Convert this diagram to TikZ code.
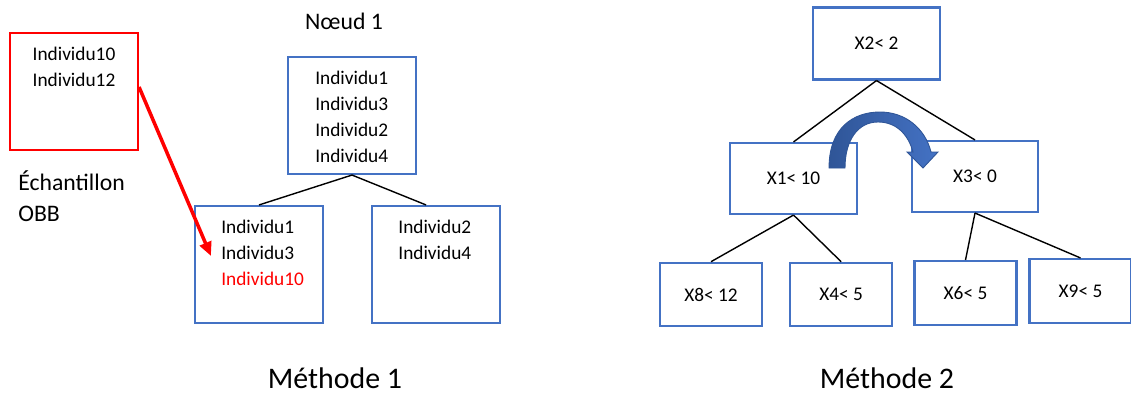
\documentclass[tikz,border=0pt]{standalone}
\usepackage{fontspec}
\setmainfont{Carlito}
\usepackage{xcolor}
\usepackage{tikz}
\usetikzlibrary{arrows.meta,positioning}
\definecolor{bleu}{RGB}{68,114,196}
\definecolor{bleufonce}{RGB}{47,85,151}
\definecolor{rouge}{RGB}{255,0,0}
\tikzstyle{boite}=[
draw=bleu,
line width=1.2pt,
minimum width=2.56cm,
minimum height=2.34cm,
inner sep=0pt
]
\tikzstyle{boiterouge}=[
boite,
draw=rouge
]
\tikzstyle{liste}=[
align=left,
inner sep=0pt,
anchor=north west,
font=\fontsize{11}{14.8}\selectfont
]
\tikzstyle{critere}=[
draw=bleu,
line width=1.2pt,
minimum width=2.54cm,
minimum height=1.44cm,
inner sep=0pt,
font=\fontsize{11}{13}\selectfont
]
\tikzstyle{feuille}=[
critere,
minimum width=2.04cm,
minimum height=1.27cm
]
\tikzstyle{titre}=[
inner sep=0pt,
font=\fontsize{17}{20}\selectfont
]
\tikzstyle{lien}=[
line width=0.8pt
]
\tikzstyle{fleche}=[
rouge,
line width=2pt,
-{Triangle[length=0.28cm,width=0.24cm]}
]

\begin{document}
\begin{tikzpicture}[x=0.02cm,y=-0.02cm]
\useasboundingbox (0,0) rectangle (1131,396);

% Methode 1
\node (obb) [boiterouge] at (74,91.5) {};
\node (obbliste) [liste, anchor=north] at ([yshift=-0.3cm]obb.north) {Individu10\\Individu12};
\node (echantillon) [anchor=west, align=left, inner sep=0pt, font=\fontsize{13.5}{17.6}\selectfont] at (18,196) {Échantillon\\OBB};

\node (titrenoeud) [font=\fontsize{13.5}{16}\selectfont] at (344,21) {Nœud 1};
\node (noeud) [boite] at (352,115.5) {};
\node (noeudliste) [liste] at ([xshift=0.56cm,yshift=-0.3cm]noeud.north west) {Individu1\\Individu3\\Individu2\\Individu4};

\node (gauche) [boite] at (259,264.5) {};
\node (gaucheliste) [liste] at ([xshift=0.54cm,yshift=-0.3cm]gauche.north west) {Individu1\\Individu3\\\textcolor{rouge}{Individu10}};
\node (droite) [boite, right=0.94cm of gauche] {};
\node (droiteliste) [liste] at ([xshift=0.54cm,yshift=-0.3cm]droite.north west) {Individu2\\Individu4};

\draw [lien] (noeud.south) -- (gauche.north);
\draw [lien] (noeud.south) -- ([xshift=-0.2cm]droite.north);
\draw [fleche] ([yshift=0.09cm]obb.east) -- ([xshift=0.34cm,yshift=0.17cm]gauche.west);

\node (methode1) [titre] at (335,378) {Méthode 1};

% Methode 2
\node (x2) [critere] at (876.5,43.5) {X2< 2};
\node (x1) [critere, minimum height=1.42cm] at (793.5,178.5) {X1< 10};
\node (x3) [critere, minimum height=1.42cm, minimum width=2.52cm] at (975,176.5) {X3< 0};
\node (x8) [feuille] at (711,294.5) {X8< 12};
\node (x4) [feuille, right=0.52cm of x8] {X4< 5};
\node (x6) [feuille, minimum height=1.28cm] at (965.5,293) {X6< 5};
\node (x9) [feuille, minimum height=1.28cm] at (1080.5,291) {X9< 5};

\draw [lien] (x2.south) -- (x1.north);
\draw [lien] (x2.south) -- (x3.north);
\draw [lien] (x1.south) -- (x8.north);
\draw [lien] (x1.south) -- (x4.north);
\draw [lien] (x3.south) -- (x6.north);
\draw [lien] (x3.south) -- (x9.north);

% fleche courbe
\path [left color=bleufonce, right color=bleu, draw=bleufonce, line width=0.5pt]
(829,168) .. controls (829,128) and (853,112) .. (880,112)
.. controls (905,112) and (925,128) .. (931,152)
-- (938,152) -- (923,168) -- (907,152) -- (913,152)
.. controls (908,134) and (896,122) .. (878,122)
.. controls (858,122) and (845,140) .. (845,168) -- cycle;

\node (methode2) [titre] at (887,378) {Méthode 2};

\end{tikzpicture}
\end{document}
